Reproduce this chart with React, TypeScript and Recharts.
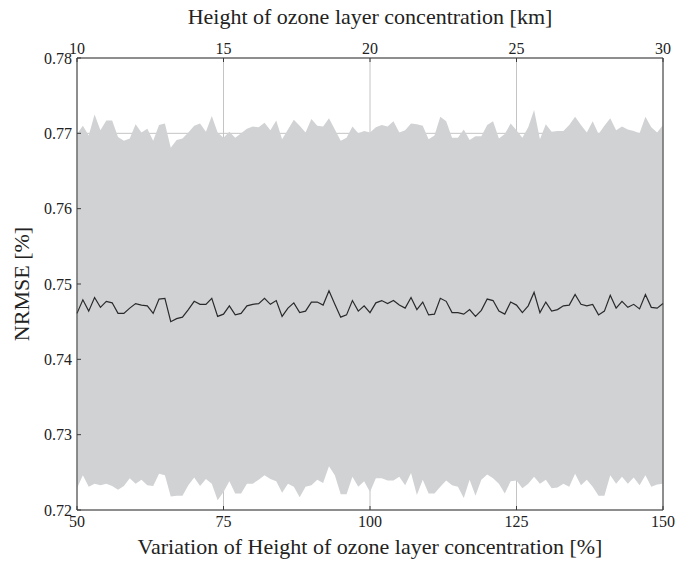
import React from "react"
import {
    ComposedChart,
    Area,
    Line,
    XAxis,
    YAxis,
    CartesianGrid,
    ReferenceLine,
} from "recharts"

// variation of height [%], one sample per percent
const PCT = [
    50, 51, 52, 53, 54, 55, 56, 57, 58, 59, 60, 61, 62, 63, 64, 65, 66, 67, 68, 69,
    70, 71, 72, 73, 74, 75, 76, 77, 78, 79, 80, 81, 82, 83, 84, 85, 86, 87, 88, 89,
    90, 91, 92, 93, 94, 95, 96, 97, 98, 99, 100, 101, 102, 103, 104, 105, 106, 107, 108, 109,
    110, 111, 112, 113, 114, 115, 116, 117, 118, 119, 120, 121, 122, 123, 124, 125, 126, 127, 128, 129,
    130, 131, 132, 133, 134, 135, 136, 137, 138, 139, 140, 141, 142, 143, 144, 145, 146, 147, 148, 149,
    150,
]

const MEAN = [
    0.7461, 0.7479, 0.7464, 0.7482, 0.7469, 0.7477, 0.7475, 0.7461, 0.7461, 0.7468,
    0.7474, 0.7472, 0.7471, 0.7461, 0.748, 0.7481, 0.745, 0.7454, 0.7456, 0.7466,
    0.7477, 0.7473, 0.7473, 0.7481, 0.7457, 0.746, 0.7471, 0.7459, 0.7461, 0.7471,
    0.7473, 0.7474, 0.7481, 0.7473, 0.7478, 0.7457, 0.7468, 0.7475, 0.7462, 0.7464,
    0.7476, 0.7476, 0.7472, 0.7491, 0.7473, 0.7456, 0.7459, 0.7478, 0.7464, 0.7471,
    0.7462, 0.7475, 0.7478, 0.7474, 0.7478, 0.7472, 0.7468, 0.7482, 0.7466, 0.7476,
    0.7459, 0.746, 0.7481, 0.7477, 0.7462, 0.7462, 0.746, 0.7466, 0.7457, 0.7465,
    0.748, 0.7478, 0.7464, 0.746, 0.7476, 0.7472, 0.7462, 0.7471, 0.7489, 0.7462,
    0.7476, 0.7464, 0.7466, 0.7471, 0.7472, 0.7486, 0.7473, 0.7471, 0.7473, 0.7459,
    0.7464, 0.7485, 0.7468, 0.7477, 0.7469, 0.7473, 0.7467, 0.7486, 0.7469, 0.7468,
    0.7474,
]

const UPPER = [
    0.7699, 0.771, 0.7697, 0.7725, 0.7704, 0.7717, 0.7717, 0.7695, 0.769, 0.7693,
    0.7712, 0.7701, 0.7706, 0.769, 0.7711, 0.7713, 0.7681, 0.7691, 0.7693, 0.7701,
    0.771, 0.7713, 0.7702, 0.7723, 0.7701, 0.7694, 0.7702, 0.7694, 0.77, 0.7706,
    0.7709, 0.7708, 0.7714, 0.7704, 0.7717, 0.7692, 0.7705, 0.7718, 0.771, 0.7701,
    0.7719, 0.771, 0.7709, 0.772, 0.7705, 0.769, 0.7694, 0.7709, 0.77, 0.7703,
    0.7701, 0.7708, 0.7711, 0.7709, 0.7716, 0.7701, 0.7704, 0.7713, 0.7712, 0.771,
    0.7692, 0.7697, 0.7722, 0.7716, 0.7694, 0.7694, 0.7705, 0.7691, 0.7696, 0.7696,
    0.7711, 0.7716, 0.7693, 0.7699, 0.7713, 0.7704, 0.7694, 0.7708, 0.7731, 0.7692,
    0.7712, 0.7702, 0.7703, 0.7703, 0.7711, 0.7722, 0.7711, 0.7701, 0.7716, 0.7699,
    0.771, 0.772, 0.7704, 0.7709, 0.7705, 0.7703, 0.77, 0.7722, 0.7708, 0.7701,
    0.7711,
]

const LOWER = [
    0.7229, 0.7246, 0.7231, 0.7235, 0.7233, 0.7235, 0.7232, 0.7227, 0.7232, 0.7242,
    0.7235, 0.724, 0.7233, 0.7232, 0.7248, 0.7246, 0.7218, 0.7219, 0.7219, 0.7233,
    0.7243, 0.7232, 0.7241, 0.7235, 0.7213, 0.7224, 0.7238, 0.7222, 0.7222, 0.7235,
    0.7235, 0.724, 0.7246, 0.7241, 0.7238, 0.7223, 0.7235, 0.7231, 0.7217, 0.7231,
    0.7233, 0.724, 0.7236, 0.7258, 0.7246, 0.7221, 0.7221, 0.7244, 0.7231, 0.7238,
    0.7224, 0.7242, 0.7242, 0.7239, 0.7239, 0.7244, 0.7233, 0.7249, 0.722, 0.724,
    0.7222, 0.7222, 0.7231, 0.7239, 0.7233, 0.7231, 0.7216, 0.724, 0.7219, 0.724,
    0.7247, 0.7242, 0.7235, 0.7222, 0.7238, 0.7239, 0.7229, 0.7235, 0.7244, 0.7235,
    0.724, 0.7229, 0.723, 0.7235, 0.7231, 0.7248, 0.7233, 0.724, 0.7231, 0.7219,
    0.7219, 0.7246, 0.7235, 0.7244, 0.7235, 0.7243, 0.7233, 0.7246, 0.7231, 0.7234,
    0.7235,
]

const X_TICKS = [50, 75, 100, 125, 150]
const KM_TICKS = ["10", "15", "20", "25", "30"]
const Y_TICKS = [0.72, 0.73, 0.74, 0.75, 0.76, 0.77, 0.78]

const data = PCT.map((pct, i) => ({
    pct,
    mean: MEAN[i],
    band: [LOWER[i], UPPER[i]],
}))

const FONT = "Liberation Serif, DejaVu Serif, serif"
const INK = "#3a3a3a"
const tickStyle = { fontFamily: FONT, fontSize: 16, fill: "#222", style: { fontFamily: FONT } }

const TopTitle = (props: any) => {
    const { viewBox } = props
    return (
        <text x={viewBox.x + viewBox.width / 2} y={viewBox.y + 24} textAnchor="middle"
            style={{ fontFamily: FONT, fontSize: 22 }} fill="#222">
            Height of ozone layer concentration [km]
        </text>
    )
}

const BottomTitle = (props: any) => {
    const { viewBox } = props
    return (
        <text x={viewBox.x + viewBox.width / 2} y={viewBox.y + viewBox.height - 7} textAnchor="middle"
            style={{ fontFamily: FONT, fontSize: 22 }} fill="#222">
            Variation of Height of ozone layer concentration [%]
        </text>
    )
}

const LeftTitle = (props: any) => {
    const { viewBox } = props
    const x = viewBox.x + 21
    const y = viewBox.y + viewBox.height / 2
    return (
        <text x={x} y={y} transform={`rotate(-90 ${x} ${y})`} textAnchor="middle" dominantBaseline="central"
            style={{ fontFamily: FONT, fontSize: 22 }} fill="#222">
            NRMSE [%]
        </text>
    )
}

export default function App() {
    return (
        <div style={{ position: "absolute", left: 0, top: 0, background: "#fff", fontFamily: FONT }}>
            <ComposedChart width={676} height={561} data={data}
                margin={{ top: 0, right: 13, bottom: 0, left: 0 }}
                style={{ fontFamily: FONT }}>
                <CartesianGrid stroke="#c4c4c4" strokeWidth={1} />
                <XAxis dataKey="pct" type="number" domain={[50, 150]} ticks={X_TICKS}
                    height={51} tickSize={-4} tickMargin={10} tick={tickStyle}
                    axisLine={{ stroke: INK }} tickLine={{ stroke: INK }}
                    label={{ content: BottomTitle }} />
                <XAxis xAxisId="top" orientation="top" dataKey="pct" type="number" domain={[50, 150]}
                    ticks={X_TICKS} tickFormatter={(v: number) => KM_TICKS[X_TICKS.indexOf(v)]}
                    height={58} tickSize={-4} tickMargin={8} tick={tickStyle}
                    axisLine={{ stroke: INK }} tickLine={{ stroke: INK }}
                    label={{ content: TopTitle }} />
                <YAxis type="number" domain={[0.72, 0.78]} ticks={Y_TICKS}
                    tickFormatter={(v: number) => v.toFixed(2)}
                    width={77} tickSize={-4} tickMargin={9} tick={tickStyle}
                    axisLine={{ stroke: INK }} tickLine={{ stroke: INK }}
                    label={{ content: LeftTitle }} />
                <Area dataKey="band" type="linear" stroke="none" fill="#d1d2d4" fillOpacity={1}
                    isAnimationActive={false} />
                <Line dataKey="mean" type="linear" stroke="#2a2a2a" strokeWidth={1.2} dot={false}
                    isAnimationActive={false} />
                <ReferenceLine x={150} stroke={INK} />
            </ComposedChart>
        </div>
    )
}
